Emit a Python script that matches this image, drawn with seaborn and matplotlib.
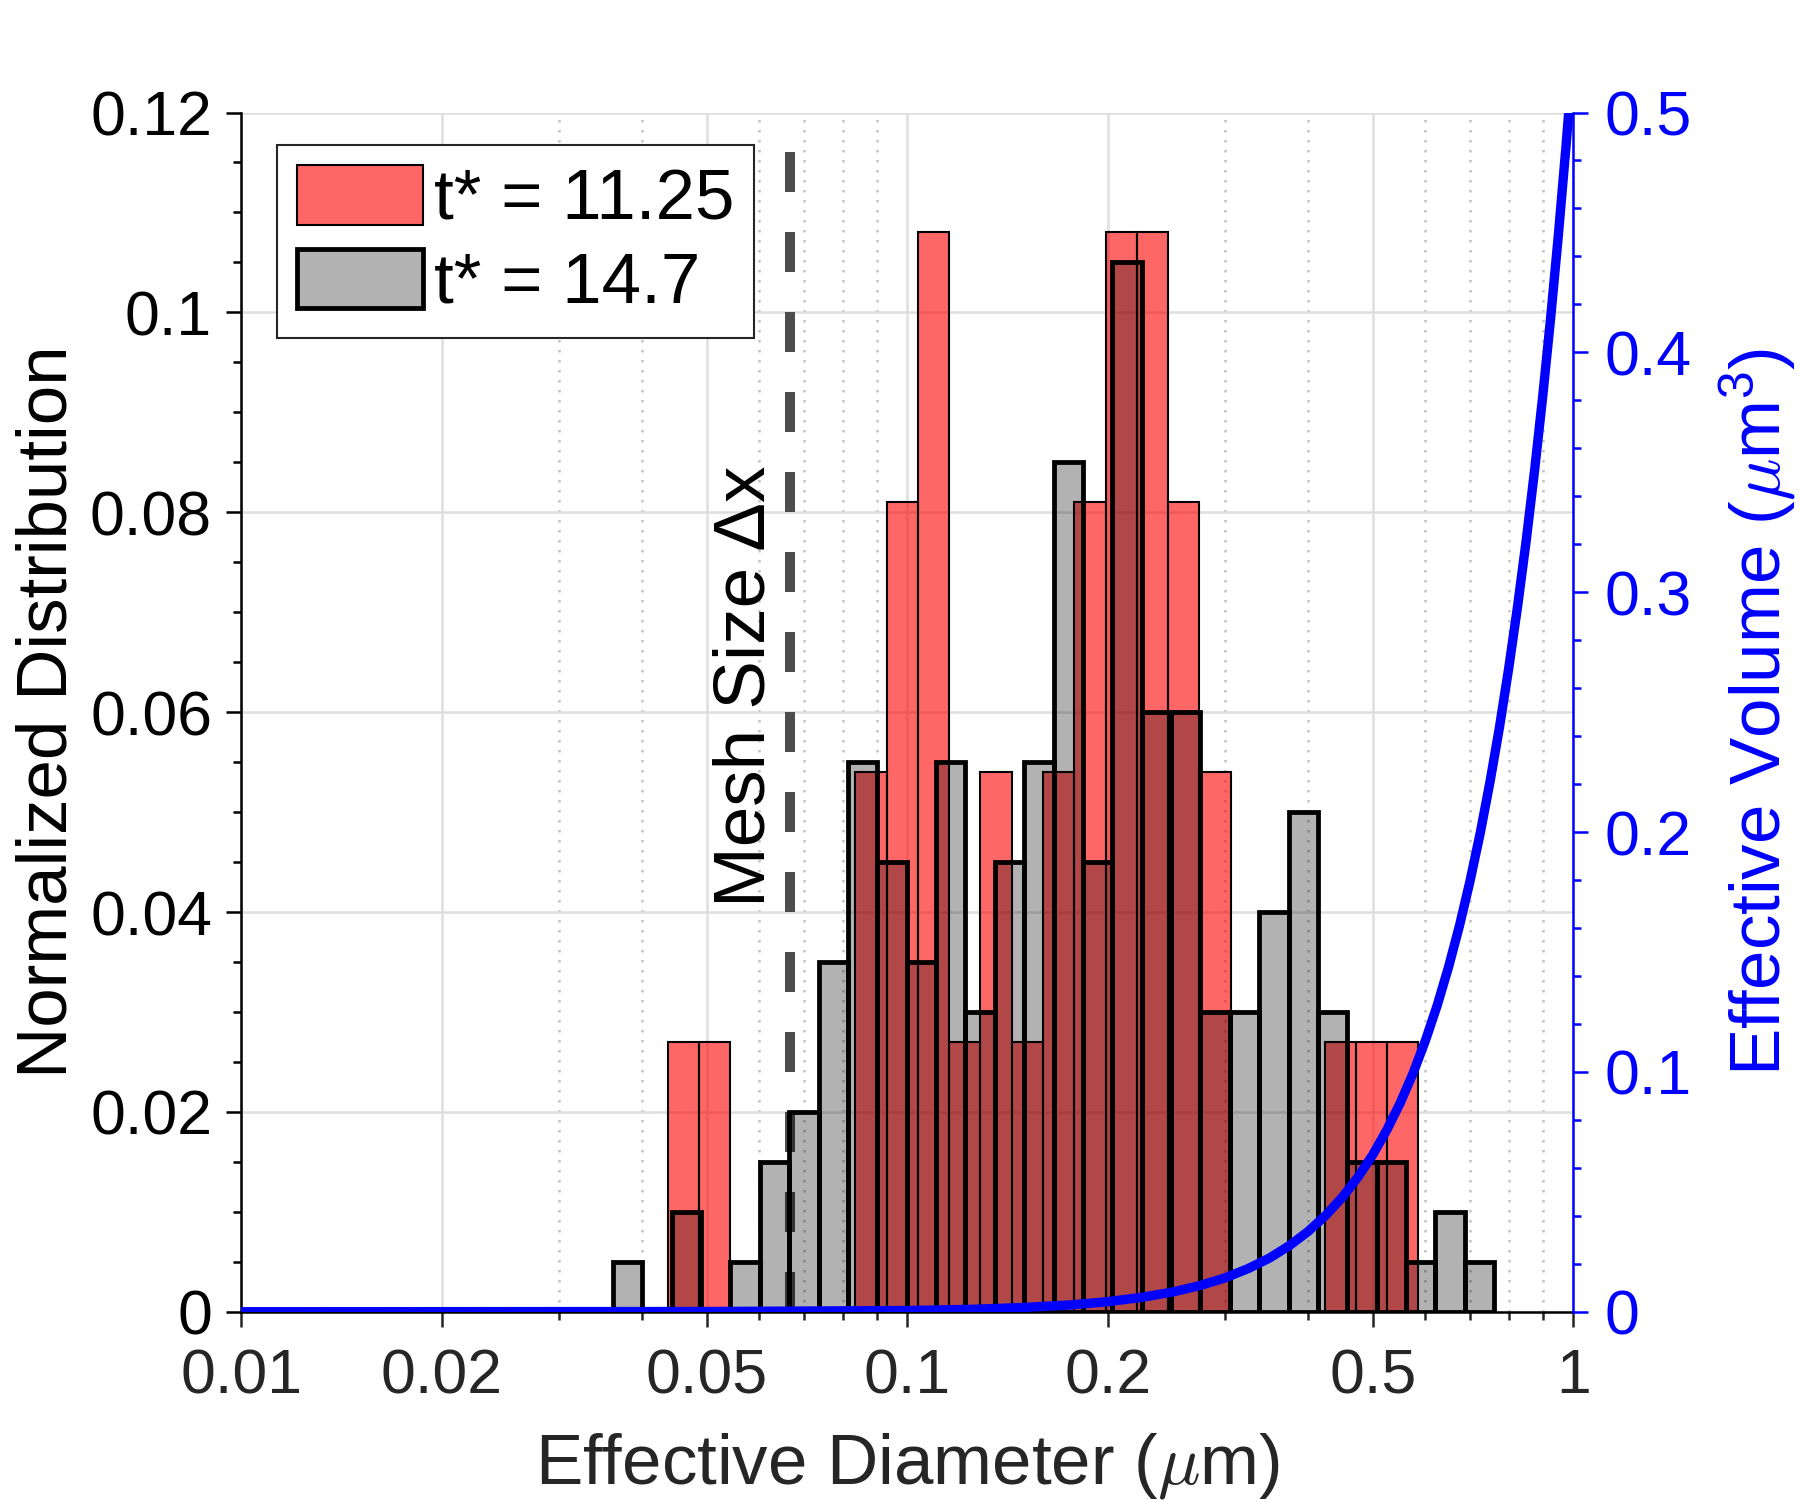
import numpy as np
import pandas as pd
import matplotlib
matplotlib.use("Agg")
import matplotlib.pyplot as plt
import seaborn as sns
from matplotlib.patches import Patch
from matplotlib.ticker import FixedLocator, FixedFormatter, MultipleLocator

# bin heights (log-uniform bins)
red_label = "t* = 11.25"
red_range = (0.04367, 0.5855)   # first / last bin edge (um)
red_heights = [0.027, 0.027, 0, 0, 0, 0, 0.054, 0.081, 0.108, 0.027, 0.054, 0.027,
               0.054, 0.081, 0.108, 0.108, 0.081, 0.054, 0, 0, 0, 0.027, 0.027, 0.027]

gray_label = "t* = 14.7"
gray_range = (0.03616, 0.7610)
gray_heights = [0.005, 0, 0.01, 0, 0.005, 0.015, 0.02, 0.035, 0.055, 0.045,
                0.035, 0.055, 0.03, 0.045, 0.055, 0.085, 0.045, 0.105, 0.06, 0.06,
                0.03, 0.03, 0.04, 0.05, 0.03, 0.015, 0.015, 0.005, 0.01, 0.005]

# effective volume curve (right axis)
vol_diam = [0.01, 0.05, 0.1, 0.125, 0.15, 0.175, 0.2, 0.225, 0.25, 0.275, 0.3,
            0.325, 0.35, 0.375, 0.4, 0.425, 0.45, 0.475, 0.5, 0.525, 0.55, 0.575,
            0.6, 0.625, 0.65, 0.675, 0.7, 0.725, 0.75, 0.775, 0.8, 0.825, 0.85,
            0.875, 0.9, 0.925, 0.95, 0.975, 1.0]
vol_value = [0.0, 0.0001, 0.0005, 0.0010, 0.0018, 0.0028, 0.0042, 0.0060, 0.0082,
             0.0109, 0.0141, 0.0180, 0.0224, 0.0276, 0.0335, 0.0402, 0.0477, 0.0561,
             0.0654, 0.0758, 0.0871, 0.0995, 0.1131, 0.1278, 0.1438, 0.1610, 0.1796,
             0.1995, 0.2209, 0.2437, 0.2681, 0.2940, 0.3215, 0.3508, 0.3817, 0.4144,
             0.4489, 0.4853, 0.5236]

mesh_size = 0.0667

x_ticks = [0.01, 0.02, 0.05, 0.1, 0.2, 0.5, 1]
x_ticklabels = ["0.01", "0.02", "0.05", "0.1", "0.2", "0.5", "1"]
x_minor = [0.03, 0.04, 0.06, 0.07, 0.08, 0.09, 0.3, 0.4, 0.6, 0.7, 0.8, 0.9]
y_ticks = [0, 0.02, 0.04, 0.06, 0.08, 0.1, 0.12]
y_ticklabels = ["0", "0.02", "0.04", "0.06", "0.08", "0.1", "0.12"]
y2_ticks = [0, 0.1, 0.2, 0.3, 0.4, 0.5]
y2_ticklabels = ["0", "0.1", "0.2", "0.3", "0.4", "0.5"]


def hist_layer(ax, rng, heights, **kws):
    # one observation per bin (at the bin's log centre), weighted by its height
    lo, hi = np.log10(rng[0]), np.log10(rng[1])
    n = len(heights)
    edges = np.linspace(lo, hi, n + 1)
    df = pd.DataFrame({"d": 10 ** ((edges[:-1] + edges[1:]) / 2), "w": heights})
    sns.histplot(data=df, x="d", weights="w", bins=n, binrange=(lo, hi),
                 log_scale=True, stat="count", element="bars", ax=ax, **kws)


sns.set_theme(style="ticks")
plt.rcParams["font.family"] = ["Liberation Sans", "DejaVu Sans"]
plt.rcParams["mathtext.fontset"] = "cm"

fig = plt.figure(figsize=(12, 10), dpi=150)
ax = fig.add_axes([0.134, 0.1255, 0.740, 0.7995])

hist_layer(ax, red_range, red_heights, color="red", alpha=0.6,
           edgecolor="black", linewidth=1.0)
hist_layer(ax, gray_range, gray_heights, color="black", alpha=0.3,
           edgecolor="black", linewidth=2.3)
for p in ax.patches:
    if p.get_height() == 0:
        p.set_visible(False)

ax.axvline(mesh_size, color="0.3", lw=4.8, ls=(0, (4, 4)), zorder=0.8)
ax.text(0.0643, 0.0405, "Mesh Size \u0394x", rotation=90, ha="right", va="bottom",
        fontsize=35, color="black")

ax.set_xscale("log")
ax.set_xlim(0.01, 1)
ax.set_ylim(0, 0.12)
ax.xaxis.set_major_locator(FixedLocator(x_ticks))
ax.xaxis.set_major_formatter(FixedFormatter(x_ticklabels))
ax.xaxis.set_minor_locator(FixedLocator(x_minor))
ax.xaxis.set_minor_formatter(FixedFormatter([""] * len(x_minor)))
ax.yaxis.set_major_locator(FixedLocator(y_ticks))
ax.yaxis.set_major_formatter(FixedFormatter(y_ticklabels))
ax.yaxis.set_minor_locator(MultipleLocator(0.005))

ax.set_axisbelow(True)
ax.grid(which="major", axis="both", color="#dedede", lw=1.2)
ax.grid(which="minor", axis="x", color="#c2c2c2", ls=(0, (1, 3)), lw=1.2)

ax.tick_params(axis="x", which="both", direction="out", colors="#262626",
               labelsize=30, pad=10, bottom=True)
ax.tick_params(axis="y", which="both", direction="out", colors="black",
               labelsize=30, pad=7, left=True)
ax.tick_params(which="major", length=7, width=1.2)
ax.tick_params(which="minor", length=4, width=1.2)

ax.set_xlabel(r"Effective Diameter ($\mu$m)", fontsize=34, color="#262626", labelpad=12)
ax.set_ylabel("Normalized Distribution", fontsize=34, color="black", labelpad=4)
for side in ["top", "right"]:
    ax.spines[side].set_visible(False)
ax.spines["left"].set_color("black")
ax.spines["bottom"].set_color("black")
ax.spines["left"].set_linewidth(1.2)
ax.spines["bottom"].set_linewidth(1.2)

# right axis: effective volume
ax2 = ax.twinx()
sns.lineplot(x=vol_diam, y=vol_value, color=(0, 0, 1), lw=4.5, ax=ax2)
ax2.set_ylim(0, 0.5)
ax2.yaxis.set_major_locator(FixedLocator(y2_ticks))
ax2.yaxis.set_major_formatter(FixedFormatter(y2_ticklabels))
ax2.yaxis.set_minor_locator(MultipleLocator(0.02))
ax2.tick_params(axis="y", which="both", direction="out", colors=(0, 0, 1),
                labelsize=30, pad=8, right=True)
ax2.tick_params(which="major", length=7, width=1.2)
ax2.tick_params(which="minor", length=4, width=1.2)
ax2.set_ylabel(r"Effective Volume ($\mu$m$\mathregular{^3}$)", fontsize=34,
               color=(0, 0, 1), labelpad=12)
for side in ["top", "left", "bottom"]:
    ax2.spines[side].set_visible(False)
ax2.spines["right"].set_color((0, 0, 1))
ax2.spines["right"].set_linewidth(1.2)
ax2.grid(False)
ax2.set_xlim(0.01, 1)

handles = [
    Patch(facecolor=(1, 0, 0, 0.6), edgecolor="black", linewidth=1.0, label=red_label),
    Patch(facecolor=(0, 0, 0, 0.3), edgecolor="black", linewidth=2.3, label=gray_label),
]
leg = ax2.legend(handles=handles, loc="upper left", bbox_to_anchor=(0.027, 0.9725),
                 borderaxespad=0, fontsize=34, frameon=True, fancybox=False,
                 handlelength=1.78, handleheight=0.92, handletextpad=0.15,
                 borderpad=0.28, labelspacing=0.2, labelcolor="black")
leg.get_frame().set_edgecolor("#262626")
leg.get_frame().set_linewidth(1.0)
leg.get_frame().set_alpha(1)

fig.savefig("out.png", dpi=150)
